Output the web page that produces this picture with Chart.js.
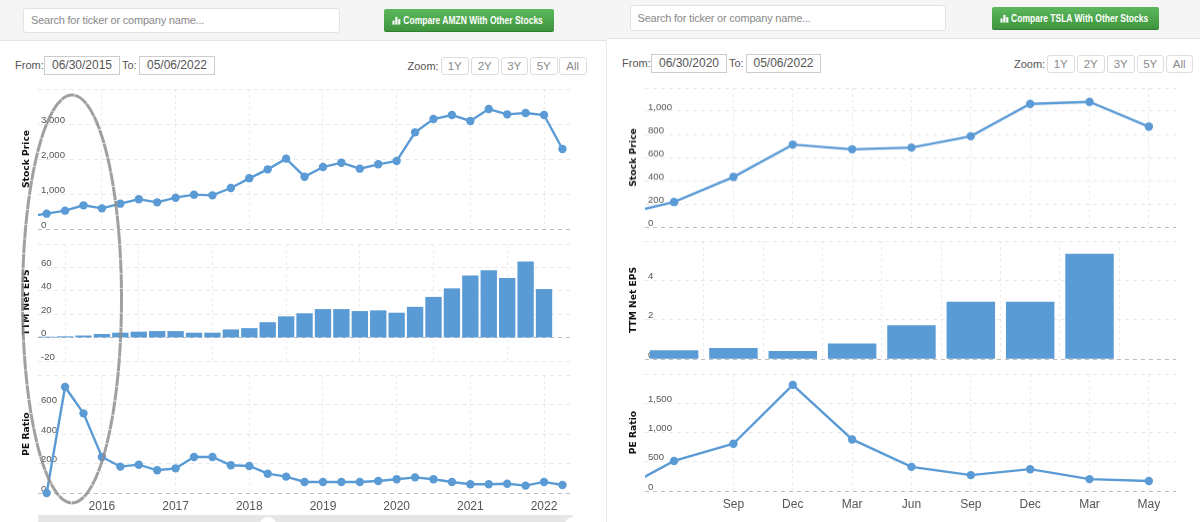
<!DOCTYPE html>
<html><head><meta charset="utf-8">
<script src="https://cdn.jsdelivr.net/npm/chart.js@4"></script>
<style>
html,body{margin:0;padding:0;background:#fff;width:1200px;height:522px;overflow:hidden;font-family:"Liberation Sans",Arial,sans-serif;}
.abs{position:absolute;box-sizing:border-box;}
.band{background:#f5f5f5;border-bottom:1px solid #e4e4e4;}
.search{background:#fff;border:1px solid #e3e3e3;border-radius:3px;color:#8a8a8a;font-size:11px;letter-spacing:-0.2px;padding-left:7px;display:flex;align-items:center;white-space:nowrap;}
.btn{background:linear-gradient(#5cb85c,#3e953e);border-bottom:1px solid #2f7d2f;border-radius:2px;color:#fff;font:bold 10.5px "Liberation Sans",sans-serif;display:flex;align-items:center;justify-content:center;white-space:nowrap;}
.btn span{display:inline-block;transform:scaleX(.81);transform-origin:center;margin:0 -14px;}
.lbl{color:#555;font-size:11px;line-height:18px;white-space:nowrap;}
.inp{border:1px solid #ccc;color:#555;font-size:12px;text-align:center;line-height:17px;}
.zb{border:1px solid #ddd;border-radius:3px;color:#8a8a8a;font-size:11.5px;text-align:center;line-height:17px;background:#fff;}
canvas{position:absolute;display:block;}
svg{position:absolute;left:0;top:0;pointer-events:none;}
</style></head><body>
<div id="chrome"></div>
<div id="charts"></div>
<svg width="1200" height="522"><ellipse cx="72" cy="299" rx="49.5" ry="204" fill="none" stroke="#8f8f8f" stroke-width="3" stroke-opacity="0.85" stroke-dasharray="14 0.6"/></svg>
<script>
// ---------- AMZN (left) ----------
const amznQuarterLabels = {3:'2016',7:'2017',11:'2018',15:'2019',19:'2020',23:'2021',27:'2022'};
const amznPriceLead = 398;
const amznPrice = [438,524,676,590,724,848,762,895,981,962,1171,1448,1705,2010,1495,1771,1895,1724,1848,1943,2762,3143,3257,3086,3429,3276,3314,3257,2286];
const amznEps = [0.5,0.8,1.5,2.8,3.9,4.8,5.3,5.3,3.9,3.9,6.7,7.8,12.9,17.9,20.5,24.1,24.1,22.4,23,21,26,34.5,41.8,52.7,57.2,50.7,64.8,41.2];
const amznPe = [0,719,540,244,179,192,154,167,244,244,188,183,131,111,75,75,75,75,81,93,106,93,75,59,59,63,50,75,54];
const amznPriceTicks = [0,1000,2000,3000,4000];
const amznEpsTicks = [-20,0,20,40,60,80];
const amznPeTicks = [0,200,400,600,800];
// ---------- TSLA (right) ----------
const tslaTickLabels = {1:'Sep',2:'Dec',3:'Mar',4:'Jun',5:'Sep',6:'Dec',7:'Mar',8:'May'};
const tslaPriceLead = 155;
const tslaPrice = [216,432,712,671,686,784,1063,1081,867];
const tslaEps = [0.43,0.54,0.39,0.77,1.7,2.89,2.89,5.34];
const tslaPeLead = 240;
const tslaPe = [514,808,1814,881,412,271,373,203,170];
const tslaPriceTicks = [0,200,400,600,800,1000,1200];
const tslaEpsTicks = [0,2,4,6];
const tslaPeTicks = [0,500,1000,1500,2000];

const BLUE = '#5b9bd5';
const AXIS_W = 23, PAD = 3;
const host = document.getElementById('charts');

function makeChart(o){
  const c = document.createElement('canvas');
  const bottomH = o.labels ? 26 : 2;
  const W = o.right - o.left + AXIS_W + PAD, H = o.bottom - o.top + PAD + bottomH;
  c.width = W; c.height = H;
  c.style.left = (o.left - AXIS_W) + 'px'; c.style.top = (o.top - PAD) + 'px';
  c.style.width = W + 'px'; c.style.height = H + 'px';
  host.appendChild(c);
  const pts = o.values.map((y,i)=>({x:i,y}));
  if (o.lead != null) pts.unshift({x:-0.5,y:o.lead});
  const hasLead = o.lead != null;
  const ds = {data:pts, backgroundColor:BLUE, borderColor:BLUE};
  if (o.type === 'line') {
    Object.assign(ds,{borderWidth:2.4,tension:0,pointBackgroundColor:BLUE,pointBorderColor:BLUE,pointBorderWidth:0,
      pointRadius:ctx=>(hasLead&&ctx.dataIndex===0)?0:4.2,clip:{left:0,right:0,top:8,bottom:8}});
  } else {
    Object.assign(ds,{barThickness:o.bar,borderWidth:0});
  }
  const yT = o.yTicks, yMax = yT[yT.length-1];
  new Chart(c,{
    type:o.type,
    data:{datasets:[ds]},
    options:{
      responsive:false,animation:false,devicePixelRatio:1,
      layout:{autoPadding:false,padding:{top:PAD,right:PAD,left:0,bottom:0}},
      plugins:{legend:{display:false},tooltip:{enabled:false}},
      scales:{
        x:{type:'linear',offset:false,min:o.xMin,max:o.xMax,
          afterBuildTicks:s=>{s.ticks=Object.keys(o.xLabels).map(k=>({value:+k}));},
          afterFit:s=>{s.height=bottomH;s.paddingLeft=0;s.paddingRight=0;},
          border:{display:false,dash:[3,3]},
          grid:{color:'#ececec',lineWidth:1,tickLength:0,drawTicks:false},
          ticks:{display:!!o.labels,autoSkip:false,maxRotation:0,padding:6,color:'#555',
            font:{family:'"Liberation Sans"',size:12},callback:v=>o.xLabels[v]||''}
        },
        y:{type:'linear',min:yT[0],max:yMax,
          afterBuildTicks:s=>{s.ticks=yT.map(v=>({value:v}));},
          afterFit:s=>{s.width=AXIS_W;s.paddingTop=0;s.paddingBottom=0;},
          border:{display:false,dash:[4,4]},
          grid:{drawTicks:false,tickLength:0,lineWidth:1,
            color:ctx=>ctx.tick&&ctx.tick.value===0?'#bcbcbc':'#e8e8e8'},
          title:{display:true,text:o.title,color:'#111',padding:{top:6,bottom:0},
            font:{family:'"DejaVu Sans"',size:9.2,weight:'bold'}},
          ticks:{mirror:true,padding:3,labelOffset:-4,color:'#555',autoSkip:false,
            font:{family:'"Liberation Sans"',size:9.6},
            callback:v=>v===yMax?'':v.toLocaleString('en-US')}
        }
      }
    }
  });
}

const L = {left:38,right:570,xMin:-0.47,xMax:28.41,xLabels:amznQuarterLabels};
makeChart({...L,top:89,bottom:229,type:'line',values:amznPrice,lead:amznPriceLead,yTicks:amznPriceTicks,title:'Stock Price'});
makeChart({...L,top:243.7,bottom:361.3,type:'bar',bar:15.7,values:amznEps,yTicks:amznEpsTicks,title:'TTM Net EPS'});
makeChart({...L,top:375.3,bottom:493.3,type:'line',values:amznPe,yTicks:amznPeTicks,title:'PE Ratio',labels:true});

const R = {left:645,right:1176,xMin:-0.49,xMax:8.457,xLabels:tslaTickLabels};
makeChart({...R,top:87.8,bottom:226.7,type:'line',values:tslaPrice,lead:tslaPriceLead,yTicks:tslaPriceTicks,title:'Stock Price'});
makeChart({...R,top:240.7,bottom:359,type:'bar',bar:47.8,values:tslaEps,yTicks:tslaEpsTicks,title:'TTM Net EPS'});
makeChart({...R,top:373.7,bottom:491.3,type:'line',values:tslaPe,lead:tslaPeLead,yTicks:tslaPeTicks,title:'PE Ratio',labels:true});

// ---------- page furniture ----------
const chrome = document.getElementById('chrome');
function box(cls,x,y,w,h,txt,extra){
  const d=document.createElement('div');d.className='abs '+cls;
  d.style.cssText+=`left:${x}px;top:${y}px;width:${w}px;height:${h}px;`+(extra||'');
  if(txt!=null)d.innerHTML=txt;chrome.appendChild(d);return d;
}
const icon='<svg style="position:static" width="9" height="9" viewBox="0 0 10 10"><rect x="0.5" y="5" width="2.4" height="4.5" fill="#fff"/><rect x="3.7" y="1" width="2.4" height="8.5" fill="#fff"/><rect x="6.9" y="3.5" width="2.4" height="6" fill="#fff"/></svg>';
box('band',0,0,606.5,41);
box('band',607,0,593,38.5);
box('',606,40,1,482,null,'background:#ececec;');
box('search',23,8,317,24.5,'Search for ticker or company name...');
box('btn',383.5,9,170.5,23,icon+'<span>Compare AMZN With Other Stocks</span>');
box('lbl',15,56,30,18,'From:');
box('inp',44,56,76,19,'06/30/2015');
box('lbl',122,56,20,18,'To:');
box('inp',139,56,76,19,'05/06/2022');
box('lbl',407.5,57,34,18,'Zoom:');
[[441,'1Y'],[471,'2Y'],[500.5,'3Y'],[530,'5Y'],[559,'All']].forEach(b=>box('zb',b[0],57,27.5,18,b[1]));
box('search',629.5,5,316.5,26,'Search for ticker or company name...');
box('btn',992,7,167,23,icon+'<span>Compare TSLA With Other Stocks</span>');
box('lbl',622,54,30,18,'From:');
box('inp',651,54,76,19,'06/30/2020');
box('lbl',729,54,20,18,'To:');
box('inp',746,54,75,19,'05/06/2022');
box('lbl',1014,55,34,18,'Zoom:');
[[1047,'1Y'],[1077,'2Y'],[1107,'3Y'],[1136.5,'5Y'],[1165.5,'All']].forEach(b=>box('zb',b[0],55,27.5,18,b[1]));
box('',38,515,535,7,null,'background:#e6e6e6;');
box('',260,517,16,16,null,'background:#fff;border-radius:50%;');
box('',565,517,16,16,null,'background:#fff;border-radius:50%;');
</script>
</body></html>
